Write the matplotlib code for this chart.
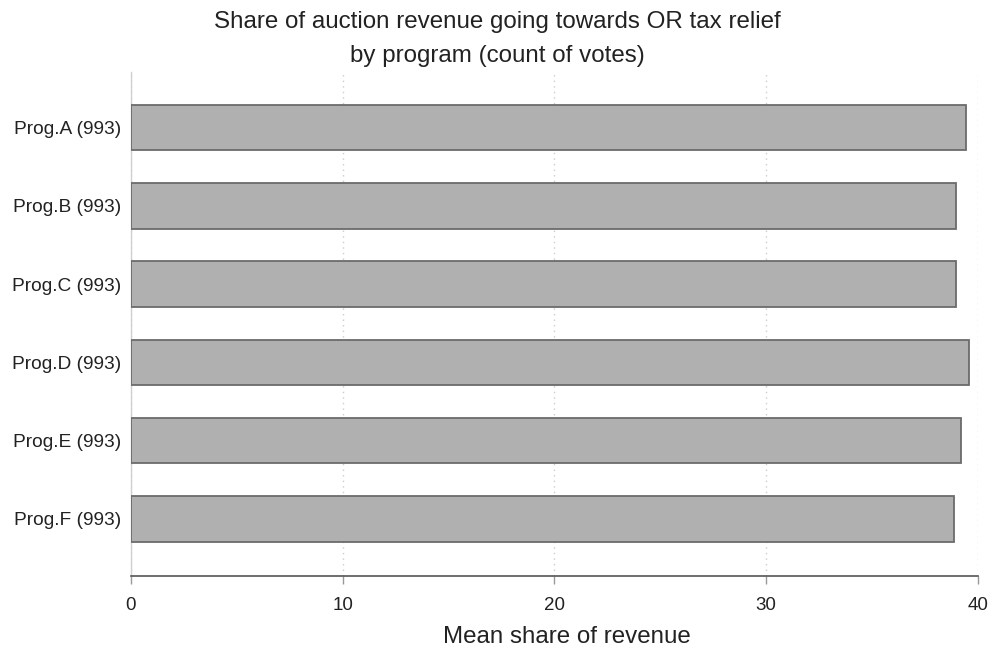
import matplotlib
matplotlib.use("Agg")
import matplotlib.pyplot as plt

plt.rcParams['font.family'] = ['Liberation Sans', 'DejaVu Sans']

programs = ["Prog.A", "Prog.B", "Prog.C", "Prog.D", "Prog.E", "Prog.F"]
counts = [993, 993, 993, 993, 993, 993]
mean_share = [39.43, 38.96, 38.96, 39.59, 39.20, 38.87]
x_ticks = [0, 10, 20, 30, 40]

W, H = 993, 652
fig = plt.figure(figsize=(W / 100, H / 100), dpi=100)
ax = fig.add_axes([0.1319, 0.1166, 0.8527, 0.773])

ypos = list(range(len(programs)))
ax.barh(ypos, mean_share, height=0.58, color="#b0b0b0",
        edgecolor="#6b6b6b", linewidth=1.3, zorder=3)

ax.set_ylim(len(programs) - 1 + 0.73, -0.71)
ax.set_xlim(0, 40)
ax.set_yticks(ypos)
ax.set_yticklabels([f"{p} ({c})" for p, c in zip(programs, counts)],
                   fontsize=13.8, color="#222222")
ax.set_xticks(x_ticks)
ax.set_xticklabels([str(t) for t in x_ticks], fontsize=13.5, color="#222222")
ax.tick_params(axis="y", length=0, pad=7)
ax.tick_params(axis="x", length=6, width=1, color="#999999", pad=9)

ax.grid(axis="x", linestyle=(0, (1, 3)), color="#cccccc", linewidth=1, zorder=0)
for side in ("top", "right"):
    ax.spines[side].set_visible(False)
ax.spines["left"].set_color("#d0d0d0")
ax.spines["left"].set_linewidth(1)
ax.spines["bottom"].set_color("#555555")
ax.spines["bottom"].set_linewidth(1.2)

fig.text(567 / W, 1 - 643 / H, "Mean share of revenue",
         ha="center", va="baseline", fontsize=17.4, color="#222222")
fig.text(497.5 / W, 1 - 28 / H, "Share of auction revenue going towards OR tax relief",
         ha="center", va="baseline", fontsize=17.4, color="#222222")
fig.text(497.5 / W, 1 - 62 / H, "by program (count of votes)",
         ha="center", va="baseline", fontsize=17.4, color="#222222")

fig.savefig("out.png", dpi=100)
